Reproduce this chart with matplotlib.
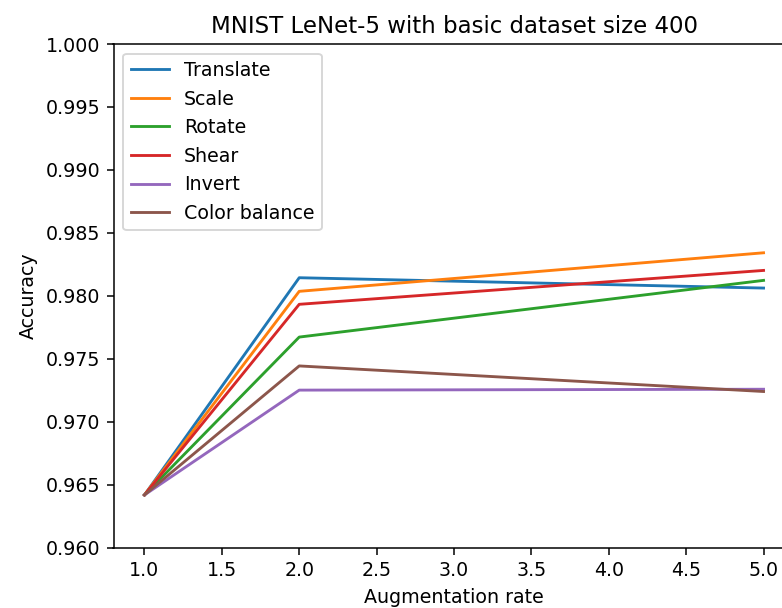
import matplotlib
matplotlib.use("Agg")
import matplotlib.pyplot as plt

rates = [1.0, 2.0, 5.0]
labels = ["Translate", "Scale", "Rotate", "Shear", "Invert", "Color balance"]
translate = [0.96421, 0.98145, 0.98063]
scale = [0.96421, 0.98037, 0.98343]
rotate = [0.96421, 0.97674, 0.98124]
shear = [0.96421, 0.97934, 0.98203]
invert = [0.96421, 0.97253, 0.97260]
color_balance = [0.96421, 0.97445, 0.97242]
series = [translate, scale, rotate, shear, invert, color_balance]

dpi = 137
fig = plt.figure(figsize=(782 / dpi, 608 / dpi), dpi=dpi)
# the reference is cropped on the right, so the axes run past the figure edge
ax = fig.add_axes([113.5 / 782, 60 / 608, 681 / 782, 504 / 608])
for name, vals in zip(labels, series):
    ax.plot(rates, vals, label=name)

ax.set_ylim(0.960, 1.000)
ax.spines["right"].set_visible(False)
ax.set_xlabel("Augmentation rate")
ax.set_ylabel("Accuracy")
ax.set_title("MNIST LeNet-5 with basic dataset size 400")
ax.legend(loc="upper left")

fig.savefig("out.png", dpi=dpi)
